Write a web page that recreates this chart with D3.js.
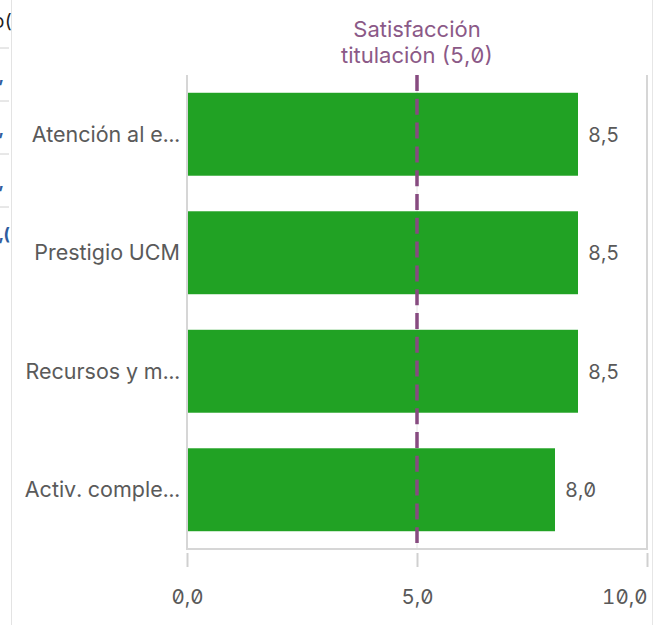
<!DOCTYPE html>
<html>
<head>
<meta charset="utf-8">
<script src="https://cdn.jsdelivr.net/npm/d3@7"></script>
<style>
  html, body { margin: 0; padding: 0; background: #fff; }
  svg { display: block; }
  text { font-family: Inter, "Noto Sans", sans-serif; font-feature-settings: "zero" 1, "tnum" 1; }
</style>
</head>
<body>
<svg id="chart" width="666" height="625"></svg>
<script>
// Dimension names and their scores
const categories = ["Atención al e...", "Prestigio UCM", "Recursos y m...", "Activ. comple..."];
const scores = [8.5, 8.5, 8.5, 8.0];
const referenceValue = 5.0;
const referenceLabel = ["Satisfacción", "titulación (5,0)"];
const xTicks = [0, 5, 10];

const fmt = v => d3.format(".1f")(v).replace(".", ",");

const svg = d3.select("#chart");

// Neighbouring table panel peeking in on the left edge
const side = svg.append("g");
side.append("line").attr("x1", 11.5).attr("x2", 11.5).attr("y1", 0).attr("y2", 625)
  .attr("stroke", "#e3e3e3").attr("stroke-width", 1);
[48, 101, 154, 207].forEach(y => {
  side.append("line").attr("x1", 0).attr("x2", 9).attr("y1", y).attr("y2", y)
    .attr("stroke", "#d0d0d0").attr("stroke-width", 1);
});
side.append("text").attr("x", -7).attr("y", 28).attr("font-size", 19).attr("fill", "#222").text("o(");
[82, 135, 188, 240].forEach((y, i) => {
  side.append("text").attr("x", -1).attr("y", y).attr("font-size", 17).attr("fill", "#2f5d9e")
    .attr("font-weight", 700).text(i === 3 ? ",(" : ",");
});

// Right border of the chart panel
svg.append("line").attr("x1", 652.5).attr("x2", 652.5).attr("y1", 0).attr("y2", 625)
  .attr("stroke", "#e6e6e6").attr("stroke-width", 1);

const plot = { left: 187, right: 647, top: 75, bottom: 549 };

const x = d3.scaleLinear().domain([0, 10]).range([plot.left, plot.right]);
const y = d3.scaleBand().domain(categories).range([plot.top, plot.bottom])
  .paddingInner(0.3).paddingOuter(0.15);

// Gridline at the midpoint tick
svg.append("g").selectAll("line").data(xTicks.slice(1, -1)).join("line")
  .attr("x1", d => x(d)).attr("x2", d => x(d))
  .attr("y1", plot.top).attr("y2", plot.bottom)
  .attr("stroke", "#e4e4e4").attr("stroke-width", 1);

// Bars
svg.append("g").selectAll("rect").data(scores).join("rect")
  .attr("x", x(0) + 1)
  .attr("y", (d, i) => y(categories[i]))
  .attr("width", d => x(d) - x(0) - 1)
  .attr("height", y.bandwidth())
  .attr("fill", "#21a224");

// Plot frame: left, bottom and right edges
const frame = svg.append("g").attr("fill", "none").attr("stroke", "#d6d6d6").attr("stroke-width", 2);
frame.append("path")
  .attr("d", `M${plot.left},${plot.top}V${plot.bottom}H${plot.right}V${plot.top}`);

// Value labels
svg.append("g").selectAll("text").data(scores).join("text")
  .attr("x", d => x(d) + 10)
  .attr("y", (d, i) => y(categories[i]) + y.bandwidth() / 2)
  .attr("dy", "0.38em")
  .attr("font-size", 20)
  .attr("fill", "#595959")
  .text(d => fmt(d));

// Category axis labels
svg.append("g").selectAll("text").data(categories).join("text")
  .attr("x", plot.left - 7)
  .attr("y", d => y(d) + y.bandwidth() / 2)
  .attr("dy", "0.36em")
  .attr("text-anchor", "end")
  .attr("font-size", 21.5)
  .attr("fill", "#5a5a5a")
  .text(d => d);

// Bottom value axis
const xAxis = d3.axisBottom(x).tickValues(xTicks).tickSize(14).tickPadding(22).tickFormat(fmt);
const ax = svg.append("g").attr("transform", `translate(0,${plot.bottom + 4})`).call(xAxis);
ax.select(".domain").remove();
ax.selectAll(".tick line").attr("stroke", "#d0d0d0").attr("stroke-width", 2);
ax.selectAll(".tick text").attr("font-size", 20.5).attr("fill", "#595959")
  .style("font-family", "Inter, sans-serif")
  .attr("text-anchor", (d, i, n) => i === n.length - 1 ? "end" : "middle");

// Reference line
svg.append("line")
  .attr("x1", x(referenceValue)).attr("x2", x(referenceValue))
  .attr("y1", plot.top).attr("y2", plot.bottom - 6)
  .attr("stroke", "#874b80").attr("stroke-width", 3.5)
  .attr("stroke-dasharray", "16 7.8");

svg.append("text")
  .attr("x", x(referenceValue))
  .attr("text-anchor", "middle")
  .attr("font-size", 22)
  .attr("fill", "#8b5987")
  .selectAll("tspan").data(referenceLabel).join("tspan")
  .attr("x", x(referenceValue))
  .attr("y", (d, i) => 37 + i * 26)
  .text(d => d);
</script>
</body>
</html>
